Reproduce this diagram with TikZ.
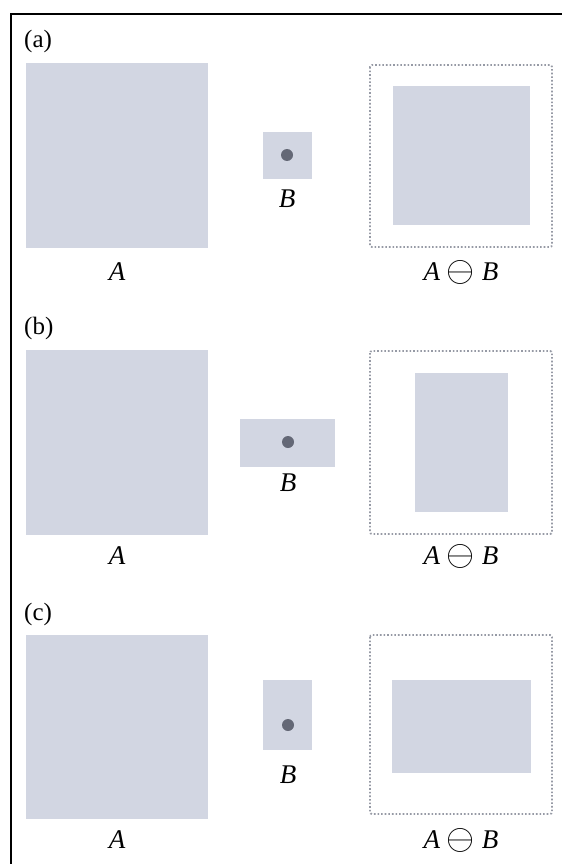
\documentclass[tikz,border=0pt]{standalone}
\usepackage{fontspec}
\usepackage{graphicx}
\setmainfont{Liberation Serif}
\definecolor{shade}{RGB}{210,214,226}
\definecolor{dotc}{RGB}{100,104,118}
\definecolor{dashc}{RGB}{150,154,165}
\newcommand{\erode}{\raisebox{-0.07em}{\scalebox{1.45}{$\ominus$}}}
\begin{document}
\begin{tikzpicture}[x=1pt,y=-1pt,
  region/.style={fill=shade,draw=none},
  probe/.style={fill=shade,draw=none},
  origin/.style={circle,fill=dotc,minimum size=12pt,inner sep=0pt},
  bound/.style={draw=dashc,line width=1.8pt,dash pattern=on 1.6pt off 2pt,rounded corners=2pt},
  lbl/.style={anchor=base,font=\fontsize{27}{30}\selectfont\itshape,inner sep=0pt},
  tag/.style={anchor=base west,font=\fontsize{25}{28}\selectfont,inner sep=0pt}]
\useasboundingbox (0,0) rectangle (562,864);
\draw[line width=2pt] (11,864) -- (11,14) -- (562,14);

% panel (a)
\node[tag] (ta) at (24,48) {(a)};
\fill[region] (26,63) rectangle (208,248);
\node[lbl] (la) at (117,280) {A};
\fill[probe] (263,132) rectangle (312,179);
\node[origin] (oa) at (287,155) {};
\node[lbl] (lba) at (287,207) {B};
\draw[bound] (370,65) rectangle (552,247);
\fill[region] (393,86) rectangle (530,225);
\node[lbl] (ra) at (461,280) {A \erode{} B};

% panel (b)
\node[tag] (tb) at (24,334) {(b)};
\fill[region] (26,350) rectangle (208,535);
\node[lbl] (lb) at (117,564) {A};
\fill[probe] (240,419) rectangle (335,467);
\node[origin] (ob) at (288,442) {};
\node[lbl] (lbb) at (288,491) {B};
\draw[bound] (370,351) rectangle (552,534);
\fill[region] (415,373) rectangle (508,512);
\node[lbl] (rb) at (461,564) {A \erode{} B};

% panel (c)
\node[tag] (tc) at (24,620) {(c)};
\fill[region] (26,635) rectangle (208,819);
\node[lbl] (lc) at (117,848) {A};
\fill[probe] (263,680) rectangle (312,750);
\node[origin] (oc) at (288,725) {};
\node[lbl] (lbc) at (288,783) {B};
\draw[bound] (370,635) rectangle (552,814);
\fill[region] (392,680) rectangle (531,773);
\node[lbl] (rc) at (461,848) {A \erode{} B};
\end{tikzpicture}
\end{document}
